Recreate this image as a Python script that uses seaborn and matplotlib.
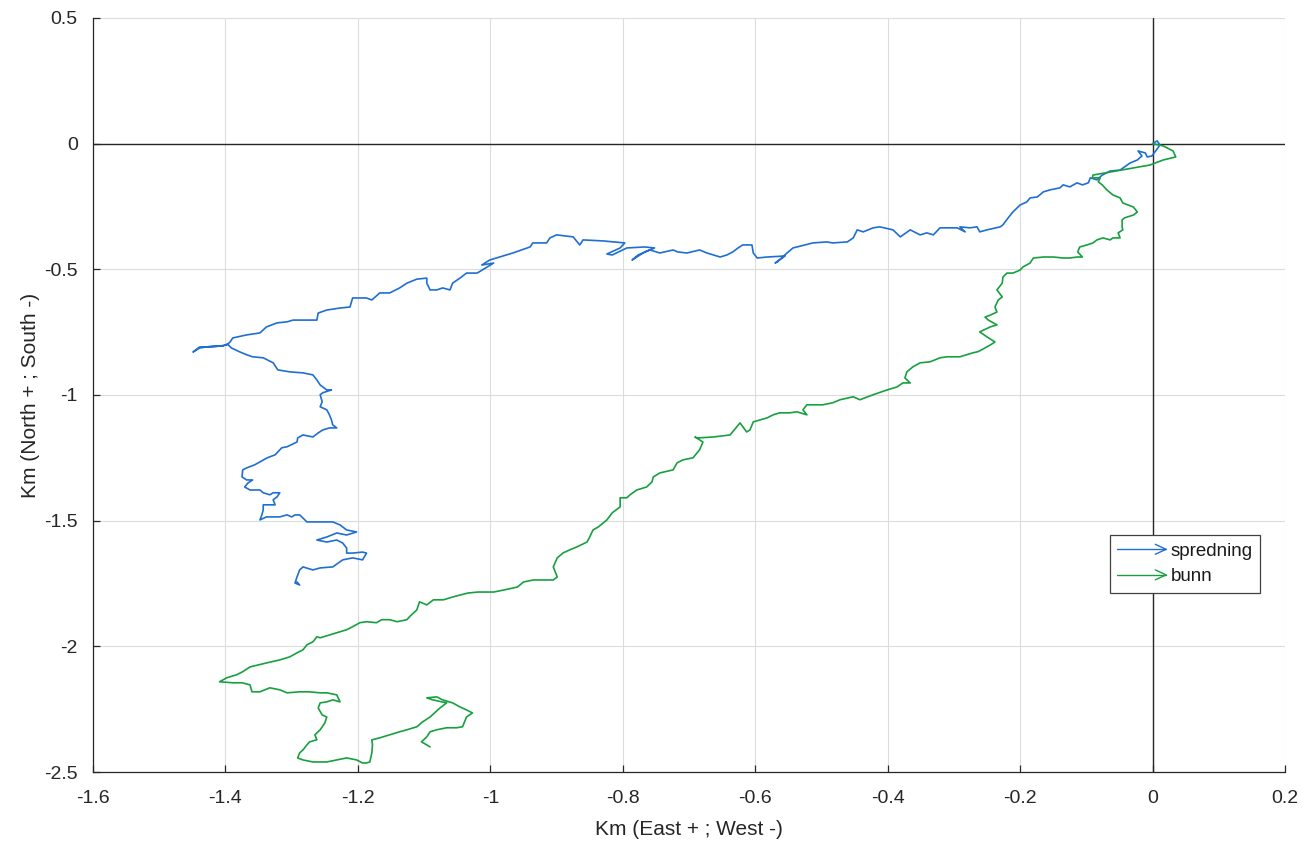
import numpy as np
import pandas as pd
import matplotlib
matplotlib.use("Agg")
import matplotlib.pyplot as plt
import seaborn as sns
from matplotlib.lines import Line2D
from matplotlib.legend_handler import HandlerBase

# Progressive vector track of the "spredning" current (km east, km north)
spredning_east = [
    0.000, 0.007, 0.011, 0.008, -0.001, -0.008, -0.011, -0.022, -0.016, -0.023,
    -0.034, -0.049, -0.064, -0.076, -0.084, -0.094, -0.097, -0.106, -0.114, -0.125,
    -0.135, -0.140, -0.155, -0.165, -0.174, -0.185, -0.190, -0.200, -0.211, -0.218,
    -0.226, -0.230, -0.250, -0.261, -0.265, -0.276, -0.291, -0.283, -0.295, -0.310,
    -0.321, -0.331, -0.341, -0.351, -0.366, -0.381, -0.392, -0.412, -0.422, -0.437,
    -0.446, -0.452, -0.461, -0.483, -0.492, -0.513, -0.543, -0.552, -0.567, -0.570,
    -0.555, -0.582, -0.597, -0.603, -0.605, -0.619, -0.626, -0.634, -0.643, -0.653,
    -0.673, -0.684, -0.703, -0.717, -0.724, -0.744, -0.759, -0.777, -0.786, -0.767,
    -0.752, -0.767, -0.794, -0.816, -0.824, -0.804, -0.797, -0.830, -0.860, -0.865,
    -0.875, -0.900, -0.910, -0.915, -0.936, -0.940, -0.966, -0.986, -1.001, -1.013,
    -0.995, -1.020, -1.036, -1.046, -1.057, -1.061, -1.072, -1.081, -1.091, -1.096,
    -1.096, -1.111, -1.126, -1.137, -1.152, -1.167, -1.179, -1.187, -1.208, -1.212,
    -1.227, -1.247, -1.260, -1.262, -1.277, -1.298, -1.307, -1.322, -1.338, -1.343,
    -1.348, -1.368, -1.389, -1.393, -1.398, -1.419, -1.439, -1.449, -1.439, -1.419,
    -1.404, -1.397, -1.391, -1.378, -1.368, -1.359, -1.343, -1.328, -1.321, -1.303,
    -1.283, -1.268, -1.262, -1.257, -1.247, -1.240, -1.253, -1.257, -1.254, -1.257,
    -1.247, -1.243, -1.240, -1.238, -1.232, -1.243, -1.253, -1.260, -1.268, -1.283,
    -1.291, -1.292, -1.307, -1.315, -1.325, -1.337, -1.348, -1.356, -1.368, -1.374,
    -1.375, -1.368, -1.359, -1.366, -1.371, -1.363, -1.348, -1.343, -1.333, -1.328,
    -1.318, -1.322, -1.328, -1.325, -1.333, -1.343, -1.343, -1.345, -1.348, -1.338,
    -1.318, -1.307, -1.300, -1.295, -1.288, -1.277, -1.257, -1.238, -1.227, -1.217,
    -1.202, -1.217, -1.232, -1.247, -1.262, -1.247, -1.232, -1.223, -1.217, -1.217,
    -1.208, -1.193, -1.187, -1.193, -1.208, -1.223, -1.238, -1.257, -1.268, -1.283,
    -1.288, -1.292, -1.295, -1.288, -1.292,
]
spredning_north = [
    0.000, 0.011, -0.005, -0.017, -0.049, -0.053, -0.037, -0.029, -0.049, -0.065,
    -0.077, -0.105, -0.109, -0.125, -0.144, -0.136, -0.156, -0.164, -0.156, -0.172,
    -0.164, -0.176, -0.184, -0.192, -0.212, -0.216, -0.232, -0.244, -0.272, -0.295,
    -0.323, -0.331, -0.343, -0.351, -0.331, -0.335, -0.331, -0.351, -0.335, -0.335,
    -0.335, -0.363, -0.355, -0.363, -0.343, -0.371, -0.343, -0.331, -0.335, -0.351,
    -0.343, -0.375, -0.391, -0.395, -0.391, -0.395, -0.415, -0.435, -0.471, -0.475,
    -0.447, -0.451, -0.455, -0.435, -0.403, -0.403, -0.415, -0.431, -0.443, -0.451,
    -0.435, -0.423, -0.435, -0.431, -0.423, -0.435, -0.423, -0.443, -0.463, -0.431,
    -0.415, -0.411, -0.415, -0.443, -0.439, -0.415, -0.395, -0.387, -0.383, -0.403,
    -0.371, -0.363, -0.375, -0.395, -0.395, -0.411, -0.435, -0.451, -0.463, -0.483,
    -0.475, -0.515, -0.515, -0.535, -0.555, -0.582, -0.574, -0.582, -0.582, -0.555,
    -0.535, -0.539, -0.555, -0.574, -0.594, -0.594, -0.622, -0.614, -0.614, -0.650,
    -0.654, -0.662, -0.674, -0.702, -0.702, -0.702, -0.709, -0.713, -0.729, -0.741,
    -0.753, -0.761, -0.773, -0.789, -0.801, -0.809, -0.809, -0.829, -0.813, -0.805,
    -0.805, -0.797, -0.813, -0.829, -0.840, -0.848, -0.852, -0.872, -0.900, -0.908,
    -0.912, -0.920, -0.940, -0.960, -0.980, -0.980, -0.991, -0.999, -1.027, -1.047,
    -1.059, -1.079, -1.099, -1.119, -1.131, -1.131, -1.139, -1.151, -1.167, -1.159,
    -1.171, -1.187, -1.206, -1.210, -1.238, -1.250, -1.266, -1.278, -1.290, -1.298,
    -1.326, -1.338, -1.338, -1.350, -1.366, -1.378, -1.378, -1.389, -1.397, -1.389,
    -1.389, -1.405, -1.417, -1.437, -1.437, -1.437, -1.457, -1.477, -1.497, -1.485,
    -1.485, -1.477, -1.485, -1.477, -1.477, -1.505, -1.505, -1.505, -1.517, -1.537,
    -1.545, -1.557, -1.549, -1.565, -1.577, -1.585, -1.577, -1.589, -1.609, -1.629,
    -1.629, -1.625, -1.629, -1.656, -1.648, -1.656, -1.684, -1.688, -1.696, -1.684,
    -1.696, -1.724, -1.748, -1.756, -1.744,
]

# Progressive vector track of the "bunn" (bottom) current (km east, km north)
bunn_east = [
    0.000, 0.016, 0.031, 0.035, 0.016, -0.004, -0.090, -0.091, -0.079, -0.082,
    -0.076, -0.069, -0.060, -0.049, -0.045, -0.029, -0.023, -0.029, -0.042, -0.046,
    -0.046, -0.045, -0.052, -0.049, -0.060, -0.064, -0.075, -0.084, -0.090, -0.099,
    -0.110, -0.113, -0.106, -0.114, -0.125, -0.135, -0.150, -0.165, -0.180, -0.185,
    -0.196, -0.200, -0.211, -0.220, -0.226, -0.227, -0.235, -0.227, -0.233, -0.238,
    -0.235, -0.245, -0.253, -0.248, -0.235, -0.245, -0.261, -0.250, -0.238, -0.245,
    -0.258, -0.264, -0.271, -0.291, -0.310, -0.321, -0.336, -0.351, -0.362, -0.371,
    -0.374, -0.366, -0.377, -0.386, -0.401, -0.422, -0.442, -0.452, -0.472, -0.483,
    -0.498, -0.522, -0.528, -0.522, -0.537, -0.548, -0.563, -0.573, -0.582, -0.603,
    -0.608, -0.613, -0.623, -0.638, -0.663, -0.688, -0.691, -0.679, -0.684, -0.694,
    -0.709, -0.718, -0.724, -0.744, -0.754, -0.756, -0.764, -0.779, -0.789, -0.794,
    -0.804, -0.804, -0.816, -0.824, -0.837, -0.845, -0.850, -0.854, -0.869, -0.880,
    -0.890, -0.899, -0.905, -0.899, -0.905, -0.935, -0.950, -0.959, -0.980, -0.995,
    -1.004, -1.019, -1.034, -1.056, -1.071, -1.086, -1.096, -1.107, -1.111, -1.122,
    -1.126, -1.141, -1.152, -1.164, -1.172, -1.187, -1.197, -1.208, -1.217, -1.227,
    -1.242, -1.257, -1.262, -1.268, -1.277, -1.283, -1.292, -1.303, -1.318, -1.338,
    -1.363, -1.374, -1.383, -1.398, -1.409, -1.389, -1.375, -1.363, -1.360, -1.348,
    -1.333, -1.318, -1.307, -1.288, -1.273, -1.257, -1.247, -1.232, -1.227, -1.238,
    -1.247, -1.257, -1.260, -1.254, -1.247, -1.250, -1.257, -1.265, -1.262, -1.273,
    -1.277, -1.283, -1.288, -1.291, -1.283, -1.268, -1.247, -1.232, -1.217, -1.202,
    -1.193, -1.187, -1.182, -1.179, -1.178, -1.179, -1.167, -1.152, -1.137, -1.126,
    -1.111, -1.102, -1.091, -1.076, -1.066, -1.087, -1.096, -1.081, -1.072, -1.057,
    -1.046, -1.036, -1.027, -1.036, -1.039, -1.042, -1.051, -1.066, -1.081, -1.091,
    -1.096, -1.104, -1.096, -1.091,
]
bunn_north = [
    0.000, -0.009, -0.029, -0.053, -0.065, -0.085, -0.125, -0.136, -0.136, -0.152,
    -0.164, -0.184, -0.204, -0.216, -0.236, -0.252, -0.272, -0.284, -0.295, -0.303,
    -0.331, -0.343, -0.355, -0.375, -0.375, -0.383, -0.375, -0.383, -0.395, -0.403,
    -0.411, -0.431, -0.451, -0.451, -0.455, -0.455, -0.451, -0.451, -0.455, -0.475,
    -0.491, -0.503, -0.515, -0.515, -0.531, -0.555, -0.582, -0.610, -0.622, -0.650,
    -0.670, -0.682, -0.690, -0.702, -0.721, -0.729, -0.749, -0.769, -0.789, -0.801,
    -0.820, -0.828, -0.832, -0.848, -0.848, -0.852, -0.868, -0.872, -0.888, -0.908,
    -0.932, -0.952, -0.952, -0.968, -0.980, -0.999, -1.019, -1.007, -1.019, -1.031,
    -1.039, -1.039, -1.059, -1.079, -1.067, -1.071, -1.071, -1.079, -1.091, -1.107,
    -1.139, -1.147, -1.111, -1.159, -1.167, -1.171, -1.167, -1.187, -1.218, -1.250,
    -1.258, -1.270, -1.298, -1.310, -1.326, -1.346, -1.366, -1.378, -1.397, -1.409,
    -1.409, -1.445, -1.469, -1.497, -1.525, -1.537, -1.565, -1.585, -1.604, -1.616,
    -1.628, -1.648, -1.684, -1.724, -1.736, -1.736, -1.744, -1.764, -1.776, -1.784,
    -1.784, -1.784, -1.788, -1.803, -1.815, -1.815, -1.835, -1.823, -1.855, -1.882,
    -1.894, -1.902, -1.894, -1.894, -1.906, -1.902, -1.906, -1.922, -1.934, -1.942,
    -1.954, -1.966, -1.962, -1.982, -1.994, -2.014, -2.026, -2.042, -2.054, -2.066,
    -2.082, -2.101, -2.113, -2.125, -2.141, -2.145, -2.145, -2.153, -2.181, -2.181,
    -2.165, -2.173, -2.185, -2.181, -2.181, -2.185, -2.185, -2.193, -2.221, -2.213,
    -2.221, -2.225, -2.245, -2.273, -2.281, -2.305, -2.332, -2.352, -2.372, -2.380,
    -2.392, -2.412, -2.424, -2.444, -2.452, -2.460, -2.460, -2.452, -2.444, -2.452,
    -2.464, -2.464, -2.460, -2.424, -2.392, -2.372, -2.364, -2.352, -2.340, -2.332,
    -2.320, -2.300, -2.281, -2.245, -2.225, -2.213, -2.205, -2.201, -2.213, -2.225,
    -2.241, -2.253, -2.265, -2.281, -2.300, -2.320, -2.324, -2.324, -2.332, -2.340,
    -2.360, -2.380, -2.392, -2.400,
]

series_names = ["spredning", "bunn"]
series_colors = {"spredning": "#1f6fd2", "bunn": "#17a040"}

x_ticks = [-1.6, -1.4, -1.2, -1.0, -0.8, -0.6, -0.4, -0.2, 0.0, 0.2]
x_tick_labels = ["-1.6", "-1.4", "-1.2", "-1", "-0.8", "-0.6", "-0.4", "-0.2", "0", "0.2"]
y_ticks = [-2.5, -2.0, -1.5, -1.0, -0.5, 0.0, 0.5]
y_tick_labels = ["-2.5", "-2", "-1.5", "-1", "-0.5", "0", "0.5"]

frames = []
for name, ex, no in [("spredning", spredning_east, spredning_north),
                     ("bunn", bunn_east, bunn_north)]:
    frames.append(pd.DataFrame({"east": ex, "north": no, "series": name,
                                "step": np.arange(len(ex))}))
tracks = pd.concat(frames, ignore_index=True)

sns.set_theme(style="white")
plt.rcParams["font.family"] = ["Liberation Sans", "DejaVu Sans"]

fig = plt.figure(figsize=(13.03, 8.44), dpi=100)
ax = fig.add_axes([0.0714, 0.0853, 0.9148, 0.8934])

sns.lineplot(data=tracks, x="east", y="north", hue="series", units="series",
             estimator=None, sort=False, palette=series_colors,
             hue_order=series_names, linewidth=1.2, legend=False, ax=ax, zorder=3)

ax.set_xlim(-1.6, 0.2)
ax.set_ylim(-2.5, 0.5)
ax.set_xticks(x_ticks)
ax.set_xticklabels(x_tick_labels)
ax.set_yticks(y_ticks)
ax.set_yticklabels(y_tick_labels)

ax.grid(True, color="#dcdcdc", linewidth=0.8)
ax.set_axisbelow(True)
ax.axhline(0, color="#262626", linewidth=1.0, zorder=2)
ax.axvline(0, color="#262626", linewidth=1.0, zorder=2)

for side in ["top", "right"]:
    ax.spines[side].set_visible(False)
for side in ["left", "bottom"]:
    ax.spines[side].set_color("#262626")
    ax.spines[side].set_linewidth(0.9)

ax.tick_params(axis="x", direction="in", length=5, width=0.9, color="#262626",
               labelsize=14, labelcolor="#262626", pad=13,
               bottom=True, top=False)
ax.tick_params(axis="y", direction="in", length=5, width=0.9, color="#262626",
               labelsize=14, labelcolor="#262626", pad=11,
               left=True, right=False)

ax.set_xlabel("Km (East + ; West -)", fontsize=15, color="#262626", labelpad=9)
ax.set_ylabel("Km (North + ; South -)", fontsize=15, color="#262626", labelpad=3)


class ArrowLineHandler(HandlerBase):
    """Legend key drawn as a line ending in an open arrowhead."""

    def create_artists(self, legend, orig_handle, xdescent, ydescent,
                       width, height, fontsize, trans):
        color = orig_handle.get_color()
        y = height / 2.0 - ydescent
        x0 = -xdescent
        x1 = x0 + width
        hw = 0.22 * width
        hh = 0.38 * height
        shaft = Line2D([x0, x1], [y, y], color=color, linewidth=1.0)
        head = Line2D([x1 - hw, x1, x1 - hw], [y + hh, y, y - hh],
                      color=color, linewidth=1.0)
        for art in (shaft, head):
            art.set_transform(trans)
        return [shaft, head]


handles = [Line2D([], [], color=series_colors[n]) for n in series_names]
leg = ax.legend(handles, series_names,
                handler_map={Line2D: ArrowLineHandler()},
                loc="upper left", bbox_to_anchor=(0.853, 0.314),
                borderaxespad=0, fancybox=False, framealpha=1,
                edgecolor="#404040", fontsize=13.5, handlelength=2.6,
                handletextpad=0.25, borderpad=0.4, labelspacing=0.45)
leg.get_frame().set_linewidth(0.9)
for t in leg.get_texts():
    t.set_color("#1a1a1a")

fig.savefig("out.png", dpi=100, facecolor="white")
